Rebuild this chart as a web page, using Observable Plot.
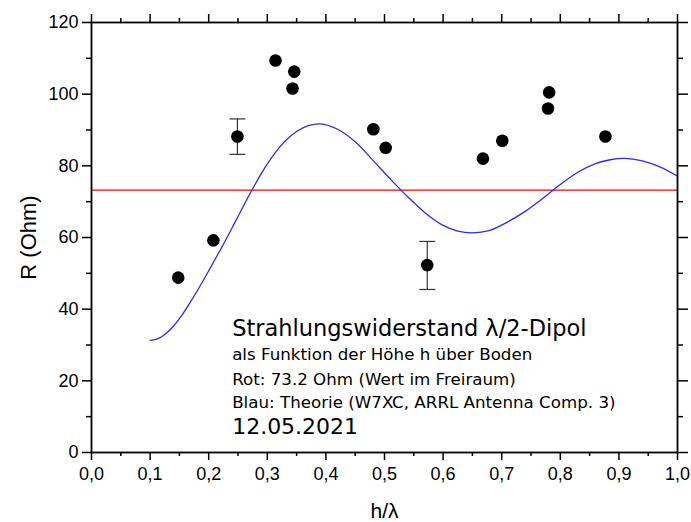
<!DOCTYPE html>
<html><head><meta charset="utf-8">
<script src="https://cdn.jsdelivr.net/npm/d3@7"></script>
<script src="https://cdn.jsdelivr.net/npm/@observablehq/plot@0.6"></script>
<style>body{margin:0;background:#fff}</style>
</head><body><div id="chart"></div>
<script>
// measured points
const pointH = [0.148, 0.208, 0.249, 0.314, 0.343, 0.346, 0.481, 0.502, 0.573, 0.668, 0.701, 0.779, 0.781, 0.877];
const pointR = [48.8, 59.2, 88.2, 109.4, 101.6, 106.3, 90.2, 85.0, 52.3, 82.0, 87.0, 96.0, 100.5, 88.2];
// error bars
const errH = [0.249, 0.573];
const errLo = [83.2, 45.5];
const errHi = [93.1, 58.9];
// theory curve
const curveH = [0.100, 0.110, 0.120, 0.130, 0.140, 0.155, 0.170, 0.185, 0.200, 0.215, 0.230, 0.245, 0.260, 0.275, 0.290, 0.305, 0.320, 0.335, 0.350, 0.370, 0.390, 0.420, 0.450, 0.480, 0.510, 0.540, 0.570, 0.600, 0.625, 0.650, 0.680, 0.710, 0.740, 0.770, 0.800, 0.830, 0.860, 0.885, 0.910, 0.940, 0.970, 1.000];
const curveR = [31.3, 31.6, 32.3, 33.6, 35.3, 38.5, 42.3, 46.4, 50.7, 55.1, 59.6, 64.3, 69.0, 73.6, 77.9, 81.7, 85.0, 87.6, 89.6, 91.2, 91.7, 90.2, 86.7, 81.6, 76.3, 71.3, 66.8, 63.4, 61.8, 61.3, 62.0, 64.3, 67.3, 70.9, 74.8, 78.2, 80.6, 81.7, 82.1, 81.4, 79.7, 77.1];
const freeSpaceR = [73.2];
// ticks
const xMajor = [0, 0.1, 0.2, 0.3, 0.4, 0.5, 0.6, 0.7, 0.8, 0.9, 1.0];
const xMinor = [0.05, 0.15, 0.25, 0.35, 0.45, 0.55, 0.65, 0.75, 0.85, 0.95];
const yMajor = [0, 20, 40, 60, 80, 100, 120];
const yMinor = [10, 30, 50, 70, 90, 110];
// annotation
const noteLines = [
  {text: "Strahlungswiderstand λ/2-Dipol", h: 0.240, r: 32.6, size: 22.5},
  {text: "als Funktion der Höhe h über Boden", h: 0.240, r: 25.7, size: 16.7},
  {text: "Rot: 73.2 Ohm (Wert im Freiraum)", h: 0.240, r: 18.7, size: 16.7},
  {text: "Blau: Theorie (W7XC, ARRL Antenna Comp. 3)", h: 0.240, r: 12.3, size: 16.7},
  {text: "12.05.2021", h: 0.240, r: 5.3, size: 22}
];
const xLabel = "h/λ";
const yLabel = "R (Ohm)";

const points = pointH.map((h, i) => ({h, r: pointR[i]}));
const errs = errH.map((h, i) => ({h, lo: errLo[i], hi: errHi[i]}));
const caps = errs.flatMap(d => [{h: d.h, r: d.lo}, {h: d.h, r: d.hi}]);
const curve = curveH.map((h, i) => ({h, r: curveR[i]}));
const fmt = d => d.toFixed(1).replace(".", ",");
const none = () => "";
const capSymbol = {draw(ctx, size) { const w = Math.sqrt(size); ctx.moveTo(-w, 0); ctx.lineTo(w, 0); }};

const chart = Plot.plot({
  width: 691, height: 522,
  marginLeft: 91, marginRight: 14, marginTop: 22, marginBottom: 70,
  x: {type: "linear", domain: [0, 1]},
  y: {type: "linear", domain: [0, 120]},
  style: {fontFamily: "'Liberation Sans', Arial, sans-serif", background: "white", color: "black"},
  marks: [
    Plot.ruleY(freeSpaceR, {stroke: "#ff0000", strokeWidth: 1.2}),
    Plot.line(curve, {x: "h", y: "r", stroke: "#2a2aff", strokeWidth: 1.3, curve: "catmull-rom"}),
    Plot.ruleX(errs, {x: "h", y1: "lo", y2: "hi", stroke: "#333", strokeWidth: 1.2}),
    Plot.dot(caps, {x: "h", y: "r", symbol: capSymbol, r: 4.5, stroke: "#333", strokeWidth: 1.2, fill: "none"}),
    Plot.dot(points, {x: "h", y: "r", r: 6.3, fill: "black"}),
    // axes
    Plot.axisX(xMajor, {anchor: "bottom", tickSize: 8, tickPadding: 7, fontSize: 18, tickFormat: fmt, strokeWidth: 1.5, label: null}),
    Plot.axisX(xMinor, {anchor: "bottom", tickSize: 4, tickFormat: none, strokeWidth: 1.5, label: null}),
    Plot.axisX(xMajor, {anchor: "top", tickSize: 9, tickFormat: none, strokeWidth: 1.5, label: null}),
    Plot.axisX(xMinor, {anchor: "top", tickSize: 5, tickFormat: none, strokeWidth: 1.5, label: null}),
    Plot.axisY(yMajor, {anchor: "left", tickSize: 9, tickPadding: 4, fontSize: 18, strokeWidth: 1.5, label: null}),
    Plot.axisY(yMinor, {anchor: "left", tickSize: 5, tickFormat: none, strokeWidth: 1.5, label: null}),
    Plot.axisY(yMajor, {anchor: "right", tickSize: 10, tickFormat: none, strokeWidth: 1.5, label: null}),
    Plot.axisY(yMinor, {anchor: "right", tickSize: 5, tickFormat: none, strokeWidth: 1.5, label: null}),
    Plot.frame({stroke: "black", strokeWidth: 1.8}),
    Plot.text([yLabel], {text: d => d, frameAnchor: "left", textAnchor: "middle", lineAnchor: "middle", rotate: -90, dx: -63, fontSize: 22, fill: "black"}),
    Plot.text([xLabel], {text: d => d, frameAnchor: "bottom", textAnchor: "middle", lineAnchor: "bottom", dy: 65, fontSize: 21, fill: "black"}),
    Plot.text(noteLines, {x: "h", y: "r", text: "text", fontSize: "size", textAnchor: "start", lineAnchor: "bottom", fontFamily: "'DejaVu Sans', Verdana, sans-serif", fill: "black"})
  ]
});
document.getElementById("chart").append(chart);
</script></body></html>
